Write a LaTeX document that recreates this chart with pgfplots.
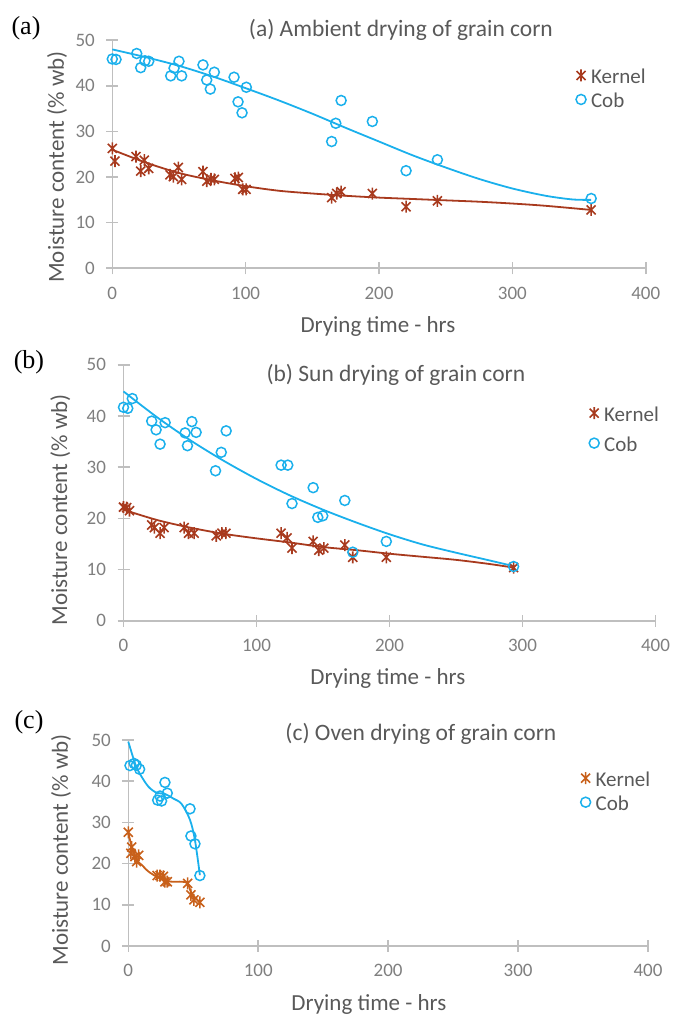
\documentclass[border=0pt]{standalone}
\usepackage{fontspec}
\setmainfont{Carlito}
\newfontfamily\timesfont{Liberation Serif}
\usepackage{pgfplots}
\pgfplotsset{compat=1.18}
\definecolor{cob}{HTML}{1AB0EC}
\definecolor{kern}{HTML}{A83A1E}
\definecolor{kernc}{HTML}{C8601A}
\definecolor{axgray}{HTML}{BFBFBF}
\definecolor{tickgray}{HTML}{7F7F7F}
\definecolor{labgray}{HTML}{595959}

\pgfdeclareplotmark{xstar}{%
  \pgfpathmoveto{\pgfqpoint{0pt}{\pgfplotmarksize}}%
  \pgfpathlineto{\pgfqpoint{0pt}{-\pgfplotmarksize}}%
  \pgfpathmoveto{\pgfqpoint{-.75\pgfplotmarksize}{.75\pgfplotmarksize}}%
  \pgfpathlineto{\pgfqpoint{.75\pgfplotmarksize}{-.75\pgfplotmarksize}}%
  \pgfpathmoveto{\pgfqpoint{-.75\pgfplotmarksize}{-.75\pgfplotmarksize}}%
  \pgfpathlineto{\pgfqpoint{.75\pgfplotmarksize}{.75\pgfplotmarksize}}%
  \pgfusepathqstroke}

\pgfplotsset{
  panel/.style={
    scale only axis, xmin=0, xmax=400, ymin=0, ymax=50,
    axis x line=bottom, axis y line=left,
    axis line style={axgray, line width=1.6pt, -},
    xtick={0,100,200,300,400}, ytick={0,10,20,30,40,50},
    tick align=center, major tick length=12pt,
    every tick/.style={axgray, line width=1.6pt},
    ticklabel style={font=\fontsize{19}{22}\selectfont, text=tickgray},
    yticklabel style={xshift=-8pt},
    xticklabel style={yshift=-9pt},
    /pgf/number format/assume math mode=true,
    label style={font=\fontsize{23}{27}\selectfont, text=labgray},
    title style={font=\fontsize{23.5}{28}\selectfont, text=labgray, anchor=center, yshift=-8pt},
    xlabel={Drying time - hrs},
    ylabel={Moisture content (\% wb)},
    clip=false,
    legend cell align=left,
    legend style={draw=none, fill=none, anchor=west, font=\fontsize{21}{25}\selectfont,
      text=labgray, inner sep=0pt, column sep=5pt, row sep=7pt,
      nodes={inner sep=0pt, text height=14pt, text depth=3pt}},
  },
  scat/.style={only marks, legend image code/.code={\draw[##1] plot coordinates {(0pt,3pt)};}},
  cobm/.style={scat, mark=o, color=cob, mark size=5pt, mark options={line width=1.5pt}},
  kerm/.style={scat, mark=xstar, color=#1, mark size=6pt, mark options={line width=1.6pt}},
  trend/.style={smooth, no marks, line width=1.8pt, color=#1, forget plot},
}

\begin{document}
\begin{tikzpicture}[x=1pt,y=1pt]
\useasboundingbox (0,0) rectangle (673,1016);

% ---------------- (a) ----------------
\node[font=\timesfont\fontsize{26}{30}\selectfont] at (26,988) {(a)};
\begin{axis}[panel, at={(112.3pt,747.7pt)}, anchor=south west,
  width=533.4pt, height=228pt,
  title={(a) Ambient drying of grain corn},
  title style={at={(0.541,1.054)}},
  xlabel style={at={(axis description cs:0.498,-0.257)}, anchor=center},
  ylabel style={at={(axis description cs:-0.1037,0.444)}, anchor=center},
  legend style={at={(0.869,0.781)}}]
\addplot[kerm=kern] coordinates {
(0,26.3) (2,23.5) (17.8,24.5) (21.3,21.3) (24,23.7) (27.3,21.9) (43.3,20.5) (45.8,20.1)
(49.5,22.1) (52,19.5) (68,21.2) (70.8,19.1) (74,19.6) (76.5,19.5) (92,19.7) (94.5,19.9)
(97.8,17.3) (100.3,17.3) (164.5,15.5) (168.3,16.4) (171.6,16.8) (195,16.4) (220.3,13.5)
(243.8,14.8) (359.1,12.8)};
\addlegendentry{Kernel}
\addplot[cobm] coordinates {
(0,45.9) (2.8,45.8) (18.3,47.1) (21.3,44.0) (24.5,45.5) (27.3,45.4) (43.8,42.2) (46.3,43.9)
(50,45.4) (52,42.2) (68,44.6) (70.8,41.3) (73.5,39.3) (76.5,43.0) (91.3,41.9) (94.3,36.5)
(97.3,34.1) (100.5,39.7) (164.5,27.8) (167.6,31.8) (171.6,36.8) (195,32.2) (220.3,21.4)
(243.8,23.8) (359.1,15.3)};
\addlegendentry{Cob}
\addplot[trend=cob] coordinates {
(0,48.0) (25,46.3) (50,44.4) (75,42.1) (100,39.5) (125,36.8) (150,33.9) (175,30.8)
(200,27.8) (225,24.8) (250,22.1) (275,19.6) (300,17.5) (325,15.9) (345,15.1) (359,15.0)};
\addplot[trend=kern] coordinates {
(0,26.0) (25,23.2) (50,20.9) (75,19.3) (100,18.0) (125,17.0) (150,16.4) (175,15.9)
(200,15.5) (225,15.2) (250,14.9) (275,14.6) (300,14.2) (325,13.7) (359,12.8)};
\end{axis}

% ---------------- (b) ----------------
\node[font=\timesfont\fontsize{26}{30}\selectfont] at (29,654) {(b)};
\begin{axis}[panel, at={(123.5pt,395.2pt)}, anchor=south west,
  width=532pt, height=256pt,
  title={(b) Sun drying of grain corn},
  title style={at={(0.512,0.968)}},
  xlabel style={at={(axis description cs:0.497,-0.227)}, anchor=center},
  ylabel style={at={(axis description cs:-0.119,0.433)}, anchor=center},
  legend style={at={(0.875,0.742)}, row sep=13pt}]
\addplot[kerm=kern] coordinates {
(0,22.2) (2.4,22.1) (4.5,21.5) (21.2,18.7) (23.2,18.2) (27.5,17.1) (30.5,18.2) (45.6,18.2)
(48.9,17.1) (53.1,17.1) (69.7,16.6) (74,17.1) (77,17.1) (118.5,17.1) (123,16.2) (126.7,14.2)
(142.6,15.5) (146.8,13.8) (150.6,14.2) (166.4,14.8) (172.4,12.4) (197.6,12.4) (293.3,10.4)};
\addlegendentry{Kernel}
\addplot[cobm] coordinates {
(0,41.7) (3.2,41.5) (6.6,43.4) (21.2,39.0) (24.5,37.3) (27.5,34.5) (31.3,38.7) (46.3,36.7)
(48.1,34.2) (51.4,38.9) (54.6,36.8) (69.2,29.3) (73.5,32.9) (77.2,37.1) (118.5,30.4)
(123.5,30.4) (126.7,22.9) (142.6,26.0) (146.1,20.2) (149.8,20.5) (166.4,23.5) (172.4,13.4)
(197.6,15.5) (293.3,10.6)};
\addlegendentry{Cob}
\addplot[trend=cob] coordinates {
(0,44.8) (25,39.8) (50,35.3) (75,31.3) (100,27.7) (125,24.5) (150,21.7) (175,19.2)
(200,16.9) (225,14.9) (250,13.3) (275,11.8) (293,10.7)};
\addplot[trend=kern] coordinates {
(0,21.7) (25,19.7) (50,18.2) (75,17.0) (100,16.1) (125,15.3) (150,14.4) (175,13.8)
(200,13.1) (225,12.5) (250,11.9) (275,11.1) (293,10.4)};
\end{axis}

% ---------------- (c) ----------------
\node[font=\timesfont\fontsize{26}{30}\selectfont] at (29,294) {(c)};
\begin{axis}[panel, at={(128.3pt,70pt)}, anchor=south west,
  width=519.7pt, height=206pt,
  title={(c) Oven drying of grain corn},
  title style={at={(0.563,1.039)}},
  xlabel style={at={(axis description cs:0.463,-0.286)}, anchor=center},
  ylabel style={at={(axis description cs:-0.1295,0.466)}, anchor=center},
  legend style={at={(0.87,0.743)}}]
\addplot[kerm=kernc] coordinates {
(0,27.6) (2,22.5) (2.6,24.0) (5.1,21.7) (6.4,20.5) (8,22.0) (22.2,17.1) (24.4,17.1)
(27,16.9) (28.2,15.6) (30,15.6) (45.7,15.2) (48.2,12.4) (50.5,11.2) (55.1,10.6)};
\addlegendentry{Kernel}
\addplot[cobm] coordinates {
(1.3,43.8) (4.5,44.3) (6.2,43.9) (8.7,42.9) (22.6,35.4) (24.4,36.4) (25.6,35.2) (28.2,39.7)
(30,37.1) (47.5,33.3) (48.2,26.7) (51.3,24.8) (55.1,17.1)};
\addlegendentry{Cob}
\addplot[trend=cob] coordinates {
(0,49.6) (5.2,44.3) (8.7,41.9) (15.4,38.7) (21.8,37.2) (28.2,36.9) (34.6,35.8) (41,34.5)
(47.5,30.6) (51.3,25.7) (55.1,17.2)};
\addplot[trend=kernc] coordinates {
(0,27.5) (2.6,24.2) (6.4,20.9) (10.3,19.7) (15.4,18.1) (21.8,16.8) (28.2,15.8) (34.6,15.6)
(41,15.6) (45.7,15.2) (48.7,12.8) (55.1,10.5)};
\end{axis}
\end{tikzpicture}
\end{document}
